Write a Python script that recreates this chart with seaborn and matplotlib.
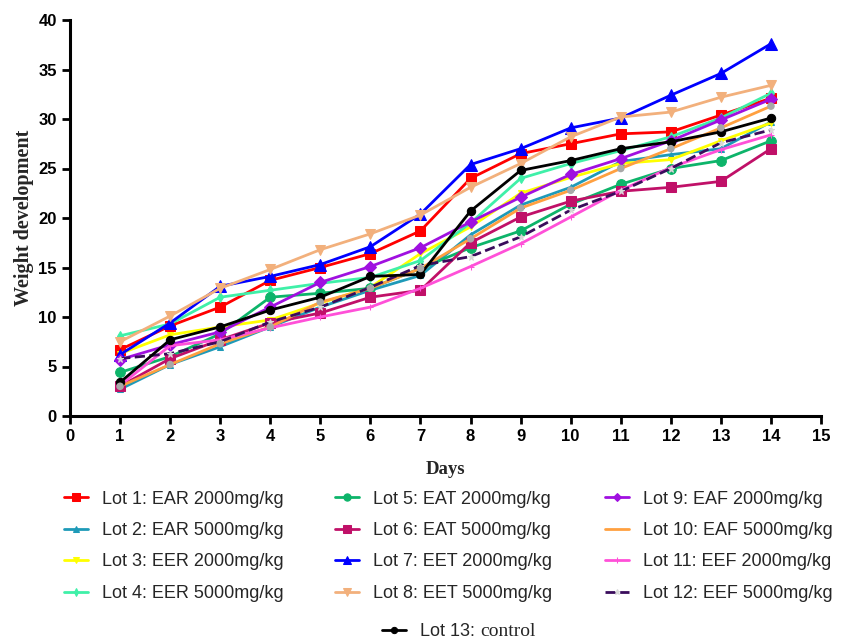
import numpy as np
import pandas as pd
import matplotlib
matplotlib.use('Agg')
import matplotlib.pyplot as plt
import seaborn as sns

days = list(range(1, 15))

lot1 = [6.7, 9.1, 11.0, 13.7, 15.0, 16.4, 18.7, 24.0, 26.5, 27.5, 28.5, 28.7, 30.4, 32.1]
lot2 = [2.7, 5.2, 7.0, 9.0, 11.0, 12.7, 14.2, 18.3, 21.3, 23.1, 25.7, 26.4, 27.0, 29.7]
lot3 = [6.3, 8.2, 9.0, 9.7, 11.4, 13.0, 16.4, 19.1, 22.5, 24.1, 25.5, 25.9, 27.8, 29.6]
lot4 = [8.1, 9.3, 12.0, 12.7, 13.4, 14.0, 15.7, 19.5, 24.0, 25.5, 26.8, 28.2, 30.1, 32.6]
lot5 = [4.4, 6.0, 8.3, 12.0, 12.4, 12.9, 14.9, 17.0, 18.7, 21.4, 23.4, 25.0, 25.8, 27.8]
lot6 = [3.0, 5.8, 7.7, 9.4, 10.4, 12.0, 12.7, 17.5, 20.1, 21.7, 22.7, 23.1, 23.7, 27.0]
lot7 = [6.2, 9.4, 13.1, 14.1, 15.3, 17.1, 20.4, 25.4, 27.0, 29.1, 30.1, 32.4, 34.6, 37.6]
lot8 = [7.5, 10.1, 12.9, 14.8, 16.8, 18.4, 20.3, 23.1, 25.5, 28.2, 30.2, 30.7, 32.2, 33.4]
lot9 = [5.7, 7.2, 8.5, 11.0, 13.5, 15.1, 17.0, 19.6, 22.1, 24.4, 26.0, 27.8, 29.9, 32.0]
lot10 = [3.0, 5.2, 7.3, 9.0, 11.5, 12.9, 14.9, 17.9, 21.0, 22.8, 25.0, 27.0, 29.1, 31.3]
lot11 = [3.1, 7.1, 7.7, 8.9, 10.0, 11.0, 12.9, 15.1, 17.4, 20.1, 22.8, 25.1, 26.9, 28.4]
lot12 = [5.8, 6.3, 7.5, 9.5, 11.0, 13.0, 15.2, 16.1, 18.1, 20.8, 22.7, 25.0, 27.6, 28.9]
lot13 = [3.4, 7.7, 9.0, 10.7, 12.0, 14.1, 14.3, 20.7, 24.8, 25.8, 27.0, 27.7, 28.7, 30.1]

labels = ['Lot 1: EAR 2000mg/kg', 'Lot 2: EAR 5000mg/kg', 'Lot 3: EER 2000mg/kg',
          'Lot 4: EER 5000mg/kg', 'Lot 5: EAT 2000mg/kg', 'Lot 6: EAT 5000mg/kg',
          'Lot 7: EET 2000mg/kg', 'Lot 8: EET 5000mg/kg', 'Lot 9: EAF 2000mg/kg',
          'Lot 10: EAF 5000mg/kg', 'Lot 11: EEF 2000mg/kg', 'Lot 12: EEF 5000mg/kg',
          'Lot 13:']
series = [lot1, lot2, lot3, lot4, lot5, lot6, lot7, lot8, lot9, lot10, lot11, lot12, lot13]

colors = ['#FF0000', '#1E9AB8', '#FFFF00', '#3FF0A8', '#0DB46A', '#C01068', '#0000FF',
          '#F2B07C', '#A010E0', '#FFA040', '#FF50D8', '#3A0C5C', '#000000']
markers = ['s', '^', 'v', 'd', 'o', 's', '^', 'v', 'D', None, '+', '*', 'o']
msizes = [7, 5, 5, 5, 7, 7, 8, 7, 6, 0, 5, 5, 6]

sns.set_style('white')
plt.rcParams['font.family'] = ['Liberation Sans', 'DejaVu Sans']

fig = plt.figure(figsize=(8.58, 6.4), dpi=100)
ax = fig.add_axes([70 / 858, 1 - 416 / 640, 751 / 858, 396 / 640])

handles = []
for i, (vals, lab) in enumerate(zip(series, labels)):
    df = pd.DataFrame({'Days': days, 'Weight': vals})
    ls = '--' if i == 11 else '-'
    mfc = '#D8D8D8' if i == 11 else colors[i]
    sns.lineplot(data=df, x='Days', y='Weight', ax=ax, color=colors[i], lw=2.0,
                 linestyle=ls, marker=markers[i], markersize=msizes[i],
                 markerfacecolor=mfc, markeredgecolor=mfc, label=lab, legend=False)
    handles.append(ax.lines[-1])
    if i == 9:
        sns.scatterplot(x=days, y=vals, ax=ax, color='#A8A8A8', s=30,
                        edgecolor='none', zorder=3, legend=False)

ax.set_xlim(0, 15)
ax.set_ylim(0, 40)
ax.set_xticks(range(0, 16))
ax.set_yticks(range(0, 41, 5))
for s in ['top', 'right']:
    ax.spines[s].set_visible(False)
for s in ['left', 'bottom']:
    ax.spines[s].set_linewidth(2.2)
    ax.spines[s].set_color('black')
ax.tick_params(axis='both', direction='out', length=6, width=2, colors='black',
               labelsize=12, bottom=True, left=True)
for t in ax.get_xticklabels() + ax.get_yticklabels():
    t.set_fontweight('bold')

ax.set_xlabel('Days', fontfamily='Liberation Serif', fontweight='bold', fontsize=13.5, labelpad=12)
ax.set_ylabel('Weight development', fontfamily='Liberation Serif', fontweight='bold',
              fontsize=14.5, labelpad=3)

leg_kw = dict(loc='upper left', frameon=False, fontsize=13, borderpad=0, borderaxespad=0,
              handlelength=1.33, handletextpad=0.78, labelspacing=0.8, markerscale=0.75)
col_x = [64, 335, 605]
for c in range(3):
    fig.legend(handles[c * 4:(c + 1) * 4], labels[c * 4:(c + 1) * 4],
               bbox_to_anchor=(col_x[c] / 858, 1 - 490.5 / 640), **leg_kw)
lg = fig.legend([handles[12]], [labels[12]], bbox_to_anchor=(382 / 858, 1 - 623 / 640), **leg_kw)

# "control" is set in a serif face in the original
fig.canvas.draw()
bb = lg.get_texts()[0].get_window_extent(fig.canvas.get_renderer())
fig.text((bb.x1 + 5) / 858, (bb.y0 + bb.y1) / 2 / 640, 'control', fontfamily='Liberation Serif',
         fontsize=14, va='center', ha='left')

fig.savefig('out.png', dpi=100)
